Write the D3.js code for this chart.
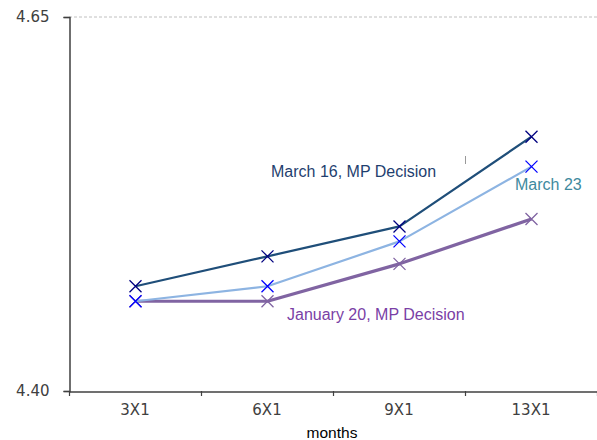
<!DOCTYPE html>
<html><head><meta charset="utf-8">
<script src="https://cdn.jsdelivr.net/npm/d3@7"></script>
<style>body{margin:0;background:#fff}svg{display:block}</style>
</head><body>
<svg id="c" width="597" height="440"></svg>
<script>
const categories = ["3X1","6X1","9X1","13X1"];
const march16 = [4.47, 4.49, 4.51, 4.57];
const march23 = [4.46, 4.47, 4.50, 4.55];
const jan20 = [4.46, 4.46, 4.485, 4.515];
const yTicks = [4.40, 4.65];
const seriesNames = ["March 16, MP Decision", "March 23", "January 20, MP Decision"];

const svg = d3.select("#c");
const x = d3.scaleBand().domain(categories).range([69, 597]);
const y = d3.scaleLinear().domain([4.40, 4.65]).range([391, 17]);
const tickFont = "Verdana, 'DejaVu Sans', sans-serif";
const labFont = "'Liberation Sans', Arial, sans-serif";

// gridline at top
svg.append("line").attr("x1",69).attr("x2",597).attr("y1",y(4.65)).attr("y2",y(4.65))
  .attr("stroke","#c0c0c0").attr("stroke-dasharray","3,2").attr("stroke-width",1);

// y axis
const ya = svg.append("g").attr("transform","translate(69.5,0)")
  .call(d3.axisLeft(y).tickValues(yTicks).tickFormat(d3.format(".2f")).tickSizeOuter(0).tickSize(6));
ya.select(".domain").attr("stroke","#404040").attr("stroke-width",1.5);
ya.selectAll(".tick line").attr("stroke","#404040").attr("stroke-width",1.2);
ya.selectAll(".tick text").style("font-family",tickFont).style("font-size","15px").style("fill","#404040").attr("x",-20);

// x axis
const xa = svg.append("g").attr("transform","translate(0,391.5)")
  .call(d3.axisBottom(x).tickSize(0).tickSizeOuter(0));
xa.select(".domain").attr("stroke","#404040").attr("stroke-width",1.5);
xa.selectAll(".tick text").style("font-family",tickFont).style("font-size","15px").style("fill","#404040").attr("y",0).attr("dy","23px");
// category boundary ticks
const bounds = categories.map(c => x(c)).concat([x(categories[categories.length-1]) + x.bandwidth()]);
svg.append("g").selectAll("line").data(bounds).join("line")
  .attr("x1",d=>Math.round(d)+0.5).attr("x2",d=>Math.round(d)+0.5).attr("y1",391).attr("y2",396)
  .attr("stroke","#404040").attr("stroke-width",1.2);

svg.append("text").attr("x",332).attr("y",438).attr("text-anchor","middle")
  .style("font-family",labFont).style("font-size","15.5px").style("fill","#000").text("months");

const cx = c => x(c) + x.bandwidth()/2 + 0.5;
const line = d3.line().x((d,i)=>cx(categories[i])).y(d=>y(d));

const series = [
  {vals: jan20, stroke:"#8064A2", width:3.2, marker:"#8064A2"},
  {vals: march23, stroke:"#8DB4E2", width:2.2, marker:"#0000FF"},
  {vals: march16, stroke:"#1F4E79", width:2.2, marker:"#000080"}
];
series.forEach(s => {
  svg.append("path").datum(s.vals).attr("d",line).attr("fill","none")
    .attr("stroke",s.stroke).attr("stroke-width",s.width).attr("stroke-linejoin","round");
  const g = svg.append("g");
  s.vals.forEach((v,i) => {
    const px = cx(categories[i]), py = y(v), r = 6;
    g.append("path").attr("d",`M${px-r},${py-r}L${px+r},${py+r}M${px-r},${py+r}L${px+r},${py-r}`)
      .attr("stroke",s.marker).attr("stroke-width",1.3).attr("fill","none");
  });
});

// labels
svg.append("text").attr("x",271).attr("y",177).style("font-family",labFont)
  .style("font-size","16px").style("fill","#1F3F6F").text(seriesNames[0]);
svg.append("text").attr("x",515).attr("y",190).style("font-family",labFont)
  .style("font-size","16px").style("fill","#3E8A9E").text(seriesNames[1]);
svg.append("text").attr("x",287).attr("y",320).style("font-family",labFont)
  .style("font-size","16px").style("fill","#7A3FA6").text(seriesNames[2]);

// stray small mark
svg.append("line").attr("x1",465.5).attr("x2",465.5).attr("y1",156).attr("y2",164)
  .attr("stroke","#999").attr("stroke-width",1);
</script>
</body></html>
